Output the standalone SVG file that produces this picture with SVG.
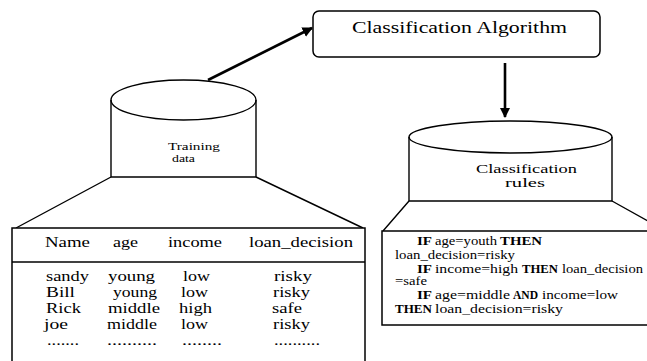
<svg xmlns="http://www.w3.org/2000/svg" width="647" height="361" viewBox="0 0 647 361">
<style>
.s{fill:none;stroke:#000;stroke-width:1.4}
.b{fill:#fff;stroke:#000;stroke-width:1.5}
text{font-family:'Liberation Serif','DejaVu Serif','Times New Roman',serif;fill:#000}
.k{font-weight:bold}
.c{stroke:#000;stroke-width:2.6;fill:none}
</style>
<defs>
<marker id="ah" viewBox="0 0 10 10" refX="9" refY="5" markerWidth="4" markerHeight="4" orient="auto" markerUnits="strokeWidth">
<path d="M0,0 L10,5 L0,10 z" fill="#000"/>
</marker>
</defs>
<rect width="647" height="361" fill="#fff"/>

<g id="algorithm">
<rect class="b" x="313" y="11" width="287" height="46" rx="6"/>
<text x="352" y="33" font-size="16" textLength="215" lengthAdjust="spacingAndGlyphs">Classification Algorithm</text>
</g>

<g id="training-data">
<path class="s" d="M111,100 L111,177 L256,177 L256,100"/>
<ellipse class="s" cx="183.5" cy="100" rx="72.5" ry="20" fill="#fff"/>
<text x="168" y="150" font-size="11" textLength="52" lengthAdjust="spacingAndGlyphs">Training</text>
<text x="172" y="162" font-size="11" textLength="23" lengthAdjust="spacingAndGlyphs">data</text>
</g>

<g id="classification-rules">
<path class="s" d="M409,137 L409,201 L612,201 L612,137"/>
<ellipse class="s" cx="510.5" cy="137" rx="101.5" ry="16" fill="#fff"/>
<text x="476" y="173" font-size="12" textLength="101" lengthAdjust="spacingAndGlyphs">Classification</text>
<text x="505" y="187" font-size="12" textLength="40" lengthAdjust="spacingAndGlyphs">rules</text>
</g>

<g id="training-table">
<path class="s" d="M111,177 L16,228 M256,177 L363,228"/>
<rect class="b" x="12" y="228" width="353" height="150"/>
<line class="s" x1="12" y1="262" x2="365" y2="262"/>
<g font-size="14">
<text x="45" y="247" textLength="45" lengthAdjust="spacingAndGlyphs">Name</text>
<text x="113" y="247" textLength="25" lengthAdjust="spacingAndGlyphs">age</text>
<text x="168" y="247" textLength="54" lengthAdjust="spacingAndGlyphs">income</text>
<text x="249" y="247" textLength="104" lengthAdjust="spacingAndGlyphs">loan_decision</text>

<text x="46" y="281" textLength="43" lengthAdjust="spacingAndGlyphs">sandy</text>
<text x="108" y="281" textLength="47" lengthAdjust="spacingAndGlyphs">young</text>
<text x="183" y="281" textLength="27" lengthAdjust="spacingAndGlyphs">low</text>
<text x="274" y="281" textLength="38" lengthAdjust="spacingAndGlyphs">risky</text>

<text x="46" y="297" textLength="29" lengthAdjust="spacingAndGlyphs">Bill</text>
<text x="113" y="297" textLength="44" lengthAdjust="spacingAndGlyphs">young</text>
<text x="181" y="297" textLength="27" lengthAdjust="spacingAndGlyphs">low</text>
<text x="273" y="297" textLength="37" lengthAdjust="spacingAndGlyphs">risky</text>

<text x="46" y="313" textLength="35" lengthAdjust="spacingAndGlyphs">Rick</text>
<text x="108" y="313" textLength="52" lengthAdjust="spacingAndGlyphs">middle</text>
<text x="179" y="313" textLength="33" lengthAdjust="spacingAndGlyphs">high</text>
<text x="272" y="313" textLength="30" lengthAdjust="spacingAndGlyphs">safe</text>

<text x="44" y="329" textLength="24" lengthAdjust="spacingAndGlyphs">joe</text>
<text x="107" y="329" textLength="50" lengthAdjust="spacingAndGlyphs">middle</text>
<text x="181" y="329" textLength="27" lengthAdjust="spacingAndGlyphs">low</text>
<text x="273" y="329" textLength="37" lengthAdjust="spacingAndGlyphs">risky</text>

<text x="47" y="345" textLength="32" lengthAdjust="spacingAndGlyphs">.......</text>
<text x="107" y="345" textLength="50" lengthAdjust="spacingAndGlyphs">..........</text>
<text x="182" y="345" textLength="40" lengthAdjust="spacingAndGlyphs">........</text>
<text x="274" y="345" textLength="46" lengthAdjust="spacingAndGlyphs">..........</text>
</g>
</g>

<g id="rules-box">
<path class="s" d="M409,201 L383,231 M612,201 L666,231"/>
<rect class="b" x="382" y="231" width="300" height="94"/>
<g font-size="13">
<text class="k" x="417" y="245" textLength="15" lengthAdjust="spacingAndGlyphs">IF</text>
<text x="435" y="245" textLength="62" lengthAdjust="spacingAndGlyphs">age=youth</text>
<text class="k" x="500" y="245" textLength="42" lengthAdjust="spacingAndGlyphs">THEN</text>

<text x="395" y="259" textLength="120" lengthAdjust="spacingAndGlyphs">loan_decision=risky</text>

<text class="k" x="417" y="273" textLength="15" lengthAdjust="spacingAndGlyphs">IF</text>
<text x="435" y="273" textLength="83" lengthAdjust="spacingAndGlyphs">income=high</text>
<text class="k" x="522" y="273" textLength="36" lengthAdjust="spacingAndGlyphs">THEN</text>
<text x="562" y="273" textLength="81" lengthAdjust="spacingAndGlyphs">loan_decision</text>

<text x="395" y="285" textLength="32" lengthAdjust="spacingAndGlyphs">=safe</text>

<text class="k" x="417" y="299" textLength="15" lengthAdjust="spacingAndGlyphs">IF</text>
<text x="435" y="299" textLength="75" lengthAdjust="spacingAndGlyphs">age=middle</text>
<text class="k" x="513" y="299" textLength="25" lengthAdjust="spacingAndGlyphs">AND</text>
<text x="542" y="299" textLength="76" lengthAdjust="spacingAndGlyphs">income=low</text>

<text class="k" x="395" y="313" textLength="37" lengthAdjust="spacingAndGlyphs">THEN</text>
<text x="435" y="313" textLength="128" lengthAdjust="spacingAndGlyphs">loan_decision=risky</text>
</g>
</g>

<g id="connectors">
<line class="c" x1="208" y1="80" x2="312" y2="28" marker-end="url(#ah)"/>
<line class="c" x1="505" y1="63" x2="505" y2="117" marker-end="url(#ah)"/>
</g>
</svg>
